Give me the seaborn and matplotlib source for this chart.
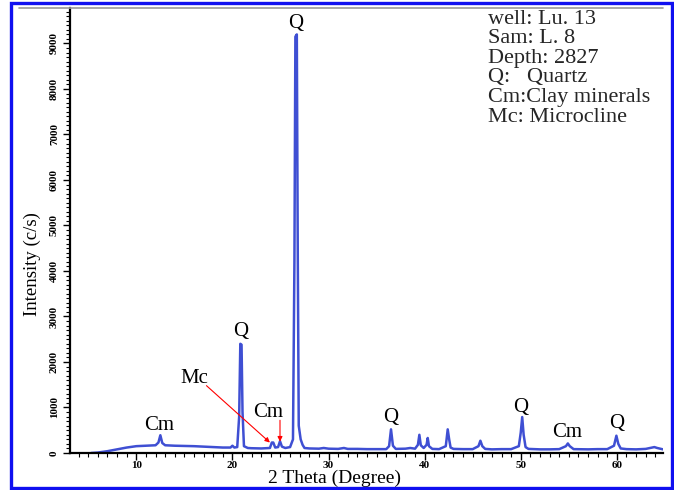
import matplotlib
matplotlib.use("Agg")
import matplotlib.pyplot as plt
import seaborn as sns
import pandas as pd
from matplotlib.ticker import MultipleLocator
from matplotlib.patches import Rectangle
from matplotlib.lines import Line2D

# ---- data ----
two_theta = [5.3, 6.0, 7.0, 8.0, 9.0, 10.0, 11.0, 12.0, 12.3, 12.5, 12.7, 13.0, 14.0, 15.0,
             16.0, 17.0, 18.0, 19.0, 19.8, 20.0, 20.2, 20.5, 20.7, 20.82, 20.95, 21.05, 21.2,
             21.6, 22.0, 23.0, 23.9, 24.1, 24.25, 24.45, 24.75, 24.95, 25.15, 25.5, 26.0,
             26.3, 26.45, 26.55, 26.7, 26.8, 26.9, 27.1, 27.3, 27.5, 28.0, 29.0, 29.5, 30.0,
             31.0, 31.6, 32.0, 33.0, 34.0, 35.0, 36.0, 36.3, 36.5, 36.7, 37.0, 38.0, 38.5,
             39.0, 39.3, 39.45, 39.6, 39.9, 40.2, 40.32, 40.45, 40.8, 41.5, 42.2, 42.4, 42.55,
             42.7, 43.0, 44.0, 45.0, 45.6, 45.8, 46.0, 46.3, 47.0, 48.0, 49.0, 49.8, 50.0,
             50.15, 50.3, 50.5, 50.8, 52.0, 53.0, 54.0, 54.7, 54.9, 55.1, 55.5, 57.0, 58.0,
             59.0, 59.7, 59.95, 60.15, 60.4, 61.0, 62.0, 63.0, 63.9, 64.2, 64.8]
intensity = [0, 10, 40, 80, 120, 150, 160, 170, 230, 390, 220, 170, 160, 155,
             150, 140, 130, 120, 120, 160, 120, 130, 800, 2400, 2380, 900, 150,
             110, 105, 100, 110, 230, 230, 120, 130, 260, 140, 110, 130,
             300, 4200, 9150, 9200, 4300, 600, 300, 180, 110, 100, 95, 110, 95,
             90, 110, 90, 90, 85, 85, 85, 150, 520, 160, 90, 95, 110,
             95, 180, 400, 170, 110, 180, 330, 150, 90, 85, 150, 520, 300,
             120, 90, 85, 85, 150, 270, 150, 90, 80, 85, 85, 150, 450,
             790, 400, 130, 90, 80, 80, 85, 150, 210, 150, 85, 80, 85,
             85, 160, 380, 200, 100, 85, 80, 90, 130, 110, 80]

peak_labels = ["Cm", "Q", "Cm", "Q", "Q", "Q", "Cm", "Q"]
label_x = [12.4, 20.85, 23.75, 26.6, 36.45, 50.0, 54.8, 60.0]
label_y = [600, 2660, 880, 9430, 790, 1010, 440, 640]

info_lines = ["well: Lu. 13", "Sam: L. 8", "Depth: 2827", "Q:   Quartz",
              "Cm:Clay minerals", "Mc: Microcline"]

df = pd.DataFrame({"two_theta": two_theta, "intensity": intensity})

sns.set_theme(style="ticks")
plt.rcParams["font.family"] = ["Liberation Serif", "DejaVu Serif"]

fig = plt.figure(figsize=(6.74, 4.9), dpi=100)
ax = fig.add_axes([70 / 674, 1 - 453 / 490, (663 - 70) / 674, (453 - 8) / 490])

sns.lineplot(data=df, x="two_theta", y="intensity", ax=ax, color="#3f4fd3",
             linewidth=1.8, estimator=None, sort=False)

ax.set_xlim(3.1, 64.8)
ax.set_ylim(0, 9780)
ax.xaxis.set_major_locator(MultipleLocator(10))
ax.xaxis.set_minor_locator(MultipleLocator(1))
ax.yaxis.set_major_locator(MultipleLocator(1000))
ax.yaxis.set_minor_locator(MultipleLocator(100))

for s in ["top", "right"]:
    ax.spines[s].set_visible(False)
for s in ["left", "bottom"]:
    ax.spines[s].set_linewidth(1.6)
    ax.spines[s].set_color("black")

ax.tick_params(axis="both", which="major", length=5, width=1.0, direction="out",
               color="black", labelcolor="black")
ax.tick_params(axis="both", which="minor", length=3, width=0.8, direction="out", color="black")
ax.tick_params(axis="y", which="major", pad=3)
ax.tick_params(axis="x", which="major", pad=1)
for lab in ax.get_xticklabels():
    lab.set_fontweight("bold")
    lab.set_fontsize(8)
for lab in ax.get_yticklabels():
    lab.set_fontweight("bold")
    lab.set_fontsize(8)
    lab.set_rotation(90)
    lab.set_va("center")

ax.set_xlabel("2 Theta (Degree)", fontsize=14, color="black")
ax.xaxis.set_label_coords((335 - 70) / (663 - 70), -(478 - 453) / (453 - 8))
ax.xaxis.label.set_va("center")
ax.set_ylabel("Intensity (c/s)", fontsize=13.5, color="black")
ax.yaxis.set_label_coords(-(70 - 32) / (663 - 70), (453 - 264) / (453 - 8))
ax.yaxis.label.set_va("center")

for t, x, y in zip(peak_labels, label_x, label_y):
    ax.text(x, y, t, fontsize=15, ha="center", va="center", color="black")

# Mc label with arrow
ax.text(16.0, 1630, "Mc", fontsize=15, ha="center", va="center", color="black")
ax.annotate("", xy=(23.9, 230), xytext=(17.3, 1480),
            arrowprops=dict(arrowstyle="-|>", color="red", lw=0.8, shrinkA=0, shrinkB=0,
                            mutation_scale=7))
# Cm arrow
ax.annotate("", xy=(24.95, 250), xytext=(24.95, 720),
            arrowprops=dict(arrowstyle="-|>", color="red", lw=0.8, shrinkA=0, shrinkB=0,
                            mutation_scale=7))

# info text block
for i, line in enumerate(info_lines):
    fig.text(488 / 674, 1 - (19 + i * 19.6) / 490, line, fontsize=16, ha="left", va="center")

# gray top line and blue frame
fig.add_artist(Line2D([19 / 674, 663 / 674], [1 - 8 / 490, 1 - 8 / 490], color="#9a9a9a",
                      linewidth=1.2, transform=fig.transFigure))
fig.add_artist(Rectangle((11 / 674, 2 / 490), (672 - 11) / 674, (487 - 2) / 490, fill=False,
                         edgecolor="#1010f0", linewidth=2.4, transform=fig.transFigure))

fig.savefig("out.png", dpi=100)
